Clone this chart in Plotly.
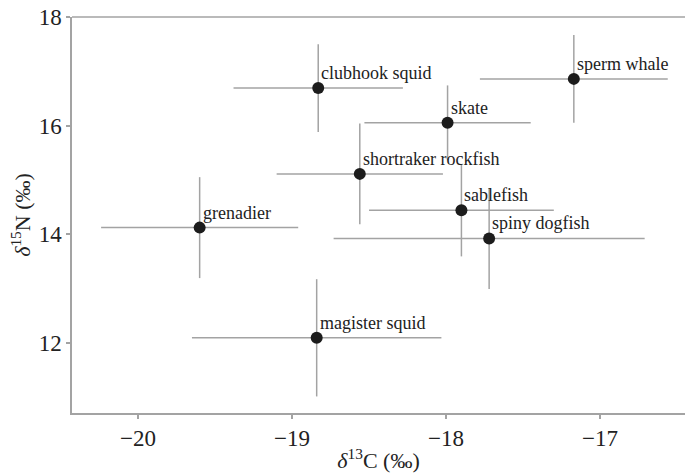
import plotly.graph_objects as go

species = ["clubhook squid", "sperm whale", "skate", "shortraker rockfish",
           "grenadier", "sablefish", "spiny dogfish", "magister squid"]
d13C = [-18.83, -17.17, -17.99, -18.56, -19.60, -17.90, -17.72, -18.84]
d15N = [16.69, 16.86, 16.05, 15.11, 14.12, 14.44, 13.92, 12.09]
sd13C = [0.55, 0.61, 0.54, 0.54, 0.64, 0.60, 1.01, 0.81]
sd15N = [0.81, 0.81, 0.69, 0.93, 0.93, 0.85, 0.93, 1.08]

x_ticks = [-20, -19, -18, -17]
y_ticks = [12, 14, 16, 18]

FONT = "'Times New Roman', 'Liberation Serif', Times, 'DejaVu Serif', serif"
GRAY = "#a3a3a3"
DARK = "#222222"

fig = go.Figure()
fig.add_trace(go.Scatter(
    x=d13C, y=d15N, mode="markers",
    marker=dict(size=12, color="#1c1c1c"),
    error_x=dict(type="data", array=sd13C, visible=True, width=0, thickness=1.5, color=GRAY),
    error_y=dict(type="data", array=sd15N, visible=True, width=0, thickness=1.5, color=GRAY),
    showlegend=False, hoverinfo="skip",
))

for name, xv, yv in zip(species, d13C, d15N):
    fig.add_annotation(x=xv, y=yv, text=name, showarrow=False,
                       xanchor="left", yanchor="bottom", xshift=1, yshift=3,
                       font=dict(family=FONT, size=18, color=DARK))

fig.add_shape(type="line", xref="paper", yref="paper", x0=0, x1=1, y0=1, y1=1,
              line=dict(color=GRAY, width=1.5))

fig.update_layout(
    width=685, height=476,
    margin=dict(l=72, r=0, t=17, b=63),
    plot_bgcolor="white", paper_bgcolor="white",
    font=dict(family=FONT, color=DARK),
    xaxis=dict(range=[-20.429, -16.448], tickvals=x_ticks, showgrid=False, zeroline=False,
               showline=True, linecolor=GRAY, linewidth=1.5,
               ticks="outside", ticklen=4, tickwidth=1.5, tickcolor=GRAY,
               tickfont=dict(family=FONT, size=23, color=DARK),
               title=dict(text="<i>δ</i><sup>13</sup>C (‰)", font=dict(family=FONT, size=22, color=DARK), standoff=2)),
    yaxis=dict(range=[10.705, 18.0], tickvals=y_ticks, showgrid=False, zeroline=False,
               showline=True, linecolor=GRAY, linewidth=1.5,
               ticks="outside", ticklen=4, tickwidth=1.5, tickcolor=GRAY,
               tickfont=dict(family=FONT, size=23, color=DARK),
               title=dict(text="<i>δ</i><sup>15</sup>N (‰)", font=dict(family=FONT, size=22, color=DARK), standoff=2)),
)

fig.write_html("out.html")
